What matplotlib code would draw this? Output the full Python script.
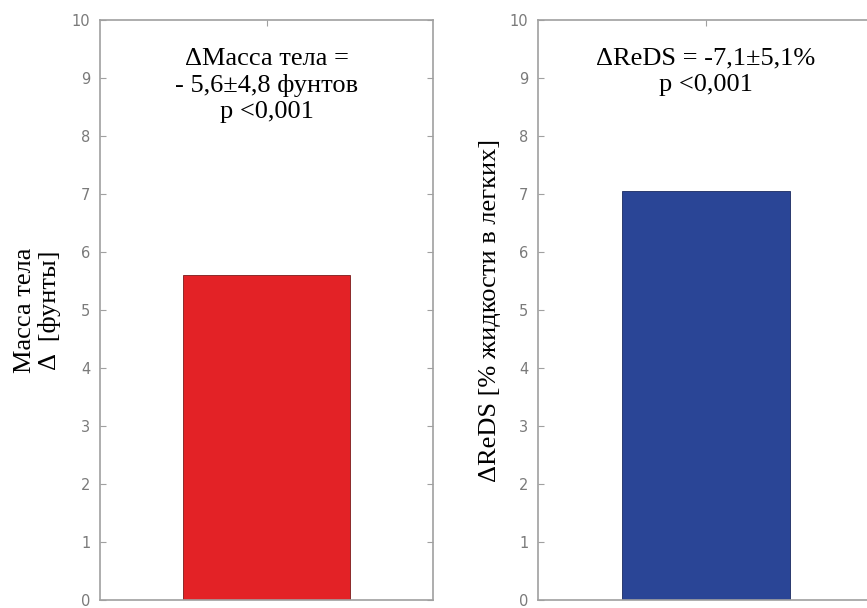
import numpy as np
import matplotlib.pyplot as plt

# values
weight_change = [5.6]
reds_change = [7.05]
yticks = np.arange(0, 11, 1)

label_left = 'Масса тела\nΔ  [фунты]'
label_right = 'ΔReDS [% жидкости в легких]'
note_left = 'ΔМасса тела =\n- 5,6±4,8 фунтов\np <0,001'
note_right = 'ΔReDS = -7,1±5,1%\np <0,001'

serif = ['Liberation Serif', 'DejaVu Serif']
grey = '#a0a0a0'

fig = plt.figure(figsize=(8.67, 6.08), dpi=100)
W, H = 867, 608


def make_axes(x0, x1, y0=600, y1=20):
    return fig.add_axes([x0 / W, 1 - y0 / H, (x1 - x0) / W, (y0 - y1) / H])


def style(ax):
    ax.set_xlim(0.5, 1.5)
    ax.set_ylim(0, 10)
    ax.set_yticks(yticks)
    ax.set_xticks([1])
    ax.set_xticklabels([])
    for s in ax.spines.values():
        s.set_color(grey)
        s.set_linewidth(1.2)
    ax.tick_params(axis='y', direction='in', length=4, color=grey, labelcolor='#7a7a7a',
                   labelsize=10.5, right=True, pad=7)
    ax.tick_params(axis='x', direction='in', length=4, color=grey, top=True, bottom=False)


ax1 = make_axes(100, 433)
ax1.bar([1], weight_change, width=0.5, color='#e32226', edgecolor='#7a1a1a', linewidth=0.6)
style(ax1)
ax1.text(1, 9.52, note_left, ha='center', va='top', fontsize=19, family=serif,
         linespacing=1.22)
ax1.set_ylabel(label_left, fontsize=19, family=serif, labelpad=8, linespacing=1.1)

ax2 = make_axes(538, 874)
ax2.bar([1], reds_change, width=0.5, color='#2a4596', edgecolor='#1a2a60', linewidth=0.6)
style(ax2)
ax2.text(1, 9.52, note_right, ha='center', va='top', fontsize=19, family=serif,
         linespacing=1.22)
ax2.set_ylabel(label_right, fontsize=19, family=serif, labelpad=6)

fig.savefig('out.png', dpi=100)
